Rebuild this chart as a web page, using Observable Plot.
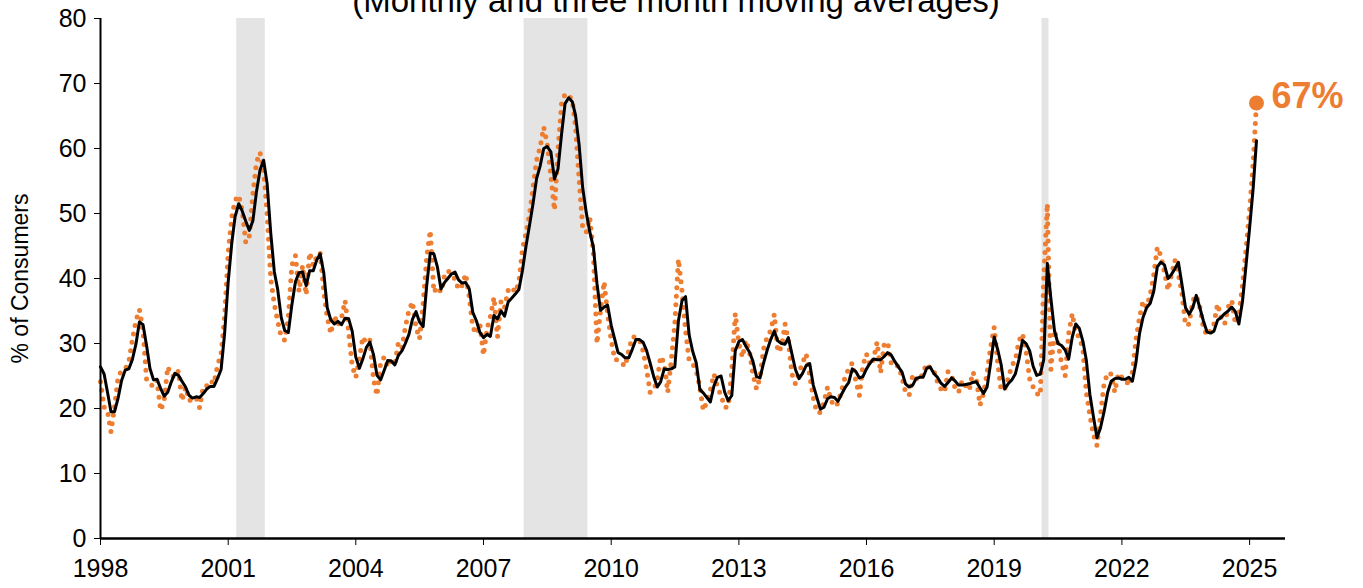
<!DOCTYPE html>
<html>
<head>
<meta charset="utf-8">
<script src="https://cdn.jsdelivr.net/npm/d3@7"></script>
<script src="https://cdn.jsdelivr.net/npm/@observablehq/plot@0.6"></script>
<style>
  html, body { margin: 0; padding: 0; background: #fff; }
  #wrap { position: relative; width: 1363px; height: 588px; overflow: hidden; font-family: "Liberation Sans", Arial, sans-serif; }
  #title { position: absolute; left: 0; top: 0; }
</style>
</head>
<body>
<div id="wrap">
  <div id="chart"></div>
  <svg id="title" width="1363" height="30"><text x="676" y="12" text-anchor="middle" font-size="33" fill="#000" font-family="Liberation Sans, Arial, sans-serif">(Monthly and three month moving averages)</text></svg>
</div>
<script>
// ---- data (first value = Jan 1998, one value per month) ----
const startYear = 1998;
const monthlyShare = [
  24.1, 20.2, 19.7, 16.4, 20.2, 24.8, 25.8, 26.1, 27.1, 30.5, 33.5, 35.2,
  32.0, 24.3, 23.8, 23.4, 24.3, 19.7, 21.2, 26.4, 25.1, 24.8, 25.8, 21.2,
  23.3, 21.2, 21.5, 21.7, 20.1, 23.4, 23.5, 24.3, 23.8, 26.6, 28.4, 34.1,
  44.0, 49.5, 52.0, 52.8, 50.5, 45.5, 46.5, 53.0, 57.9, 59.4, 56.6, 49.9,
  40.0, 36.0, 33.5, 31.0, 30.5, 34.0, 42.0, 43.5, 38.0, 42.0, 37.5, 44.0,
  42.0, 43.5, 44.0, 38.0, 34.0, 31.5, 34.3, 32.8, 34.0, 36.6, 31.7, 26.6,
  24.8, 27.6, 31.0, 30.0, 30.5, 24.5, 22.0, 27.1, 27.9, 26.4, 27.4, 26.9,
  30.2, 29.4, 32.5, 35.1, 36.4, 32.5, 30.7, 36.1, 43.3, 47.4, 37.9, 38.7,
  37.9, 40.5, 41.2, 40.7, 39.9, 38.3, 38.9, 40.7, 37.1, 32.5, 31.5, 33.0,
  28.2, 32.3, 34.1, 37.1, 31.0, 36.6, 35.6, 38.2, 38.7, 37.9, 39.4, 44.5,
  47.0, 50.0, 54.0, 58.2, 60.2, 63.3, 60.7, 55.8, 50.5, 59.7, 66.9, 68.4,
  68.2, 67.4, 63.3, 55.1, 47.9, 47.1, 49.4, 44.0, 30.0, 35.0, 39.5, 34.6,
  30.5, 27.5, 27.5, 27.0, 26.5, 29.0, 31.0, 31.0, 30.6, 28.9, 26.0, 22.5,
  22.8, 24.5, 28.0, 27.0, 22.5, 27.5, 33.0, 43.0, 38.0, 32.0, 27.4, 26.9,
  25.8, 23.3, 19.7, 21.0, 22.8, 25.3, 23.3, 22.0, 20.2, 20.2, 25.8, 34.6,
  29.9, 27.9, 30.5, 28.9, 25.3, 23.0, 24.8, 29.2, 31.0, 32.0, 34.5, 28.7,
  29.4, 33.0, 30.5, 25.3, 23.8, 25.5, 27.0, 28.4, 25.0, 21.7, 19.4, 19.4,
  21.0, 23.3, 21.3, 20.3, 20.8, 22.8, 24.8, 26.1, 27.0, 24.3, 22.0, 26.6,
  28.4, 26.6, 27.6, 30.2, 25.5, 29.9, 30.2, 26.9, 26.4, 26.6, 24.8, 22.5,
  22.0, 25.2, 24.6, 24.3, 25.6, 26.9, 26.1, 25.8, 24.1, 23.0, 22.5, 25.7,
  25.1, 23.0, 22.5, 24.3, 23.5, 22.8, 25.6, 24.6, 20.5, 22.3, 25.5, 29.4,
  32.5, 26.9, 22.8, 23.0, 24.6, 26.6, 27.4, 30.4, 31.5, 28.9, 24.6, 23.3,
  22.3, 22.0, 40.0, 51.5, 26.0, 32.0, 30.0, 27.0, 25.0, 31.5, 34.6, 31.5,
  31.0, 29.0, 22.5, 19.0, 16.0, 14.3, 19.0, 23.8, 25.5, 25.3, 22.5, 25.4,
  24.8, 24.5, 23.5, 25.6, 30.5, 34.0, 36.5, 35.6, 37.5, 40.5, 44.8, 43.5,
  41.0, 38.2, 40.5, 42.8, 40.7, 37.6, 32.8, 33.0, 36.6, 37.4, 35.6, 32.5,
  31.2, 32.0, 33.0, 36.1, 34.0, 33.0, 35.6, 36.6, 33.0, 34.5, 39.0, 44.5,
  50.5, 58.0, 67.0
];
const movingAverage3 = [
  26.4, 25.3, 22.6, 19.5, 19.5, 21.6, 24.3, 25.9, 26.1, 27.5, 29.9, 33.3,
  32.9, 29.6, 26.2, 24.4, 24.5, 23.1, 21.9, 22.5, 24.1, 25.4, 25.1, 24.2,
  23.3, 22.0, 21.6, 21.8, 21.7, 22.3, 23.0, 23.4, 23.4, 24.6, 26.0, 31.5,
  39.5, 45.5, 49.5, 51.5, 50.4, 48.8, 47.4, 48.9, 53.4, 56.7, 58.2, 54.6,
  47.0, 41.0, 38.4, 34.0, 32.0, 31.7, 35.9, 39.5, 40.9, 41.0, 38.9, 41.2,
  41.2, 42.9, 43.8, 40.9, 35.5, 33.6, 33.0, 33.4, 32.9, 33.9, 33.8, 31.9,
  27.9, 26.2, 27.6, 29.4, 30.2, 28.3, 25.1, 24.4, 25.9, 27.4, 27.3, 26.7,
  28.2, 28.9, 30.0, 31.4, 33.7, 34.9, 33.3, 32.6, 39.0, 43.9, 43.8, 41.8,
  38.4, 39.4, 40.0, 40.7, 41.0, 39.8, 39.3, 39.4, 38.4, 34.8, 33.5, 31.7,
  30.9, 31.4, 31.1, 34.3, 33.8, 35.0, 34.2, 36.4, 37.0, 37.6, 38.3, 41.2,
  45.0, 48.3, 51.5, 55.4, 57.3, 60.0, 60.3, 59.5, 55.3, 56.8, 62.2, 66.9,
  67.8, 67.2, 65.1, 60.5, 54.0, 50.1, 47.2, 44.8, 39.2, 35.1, 35.6, 35.9,
  32.8, 30.6, 28.6, 28.3, 27.8, 27.8, 29.1, 30.6, 30.6, 30.2, 28.9, 27.0,
  24.9, 23.3, 24.1, 26.1, 26.0, 26.1, 26.4, 33.5, 36.6, 37.2, 31.3, 28.8,
  27.0, 22.9, 22.4, 21.7, 21.0, 23.5, 24.8, 25.0, 22.5, 21.2, 22.0, 28.9,
  30.3, 30.6, 29.6, 28.7, 27.3, 24.9, 24.7, 27.0, 29.0, 30.6, 31.9, 30.4,
  30.0, 29.9, 30.9, 28.4, 26.0, 24.6, 25.4, 26.6, 26.9, 23.6, 21.7, 19.9,
  20.2, 21.5, 21.8, 21.7, 21.1, 22.2, 23.2, 24.0, 26.1, 25.7, 24.7, 24.9,
  26.1, 27.0, 27.6, 27.5, 27.5, 28.0, 28.6, 28.2, 27.2, 26.4, 25.6, 23.8,
  23.3, 23.6, 24.6, 24.8, 24.8, 26.2, 26.4, 25.4, 24.8, 23.9, 23.4, 24.0,
  24.7, 24.2, 23.6, 23.6, 23.7, 23.8, 24.0, 24.1, 23.2, 22.3, 23.3, 26.9,
  31.0, 29.0, 26.8, 23.0, 23.8, 24.4, 25.3, 27.5, 30.5, 30.0, 28.9, 26.5,
  25.1, 25.3, 27.5, 42.3, 37.0, 32.0, 30.0, 29.7, 29.0, 27.6, 31.0, 33.0,
  32.3, 30.3, 27.5, 22.2, 18.8, 15.5, 17.0, 19.5, 22.5, 24.2, 24.6, 24.7,
  24.5, 24.5, 24.8, 24.2, 27.0, 31.5, 34.0, 35.5, 36.2, 38.0, 41.8, 42.5,
  42.1, 40.0, 40.6, 41.5, 42.5, 39.0, 35.5, 34.5, 35.5, 37.4, 35.5, 33.5,
  31.8, 31.6, 31.9, 33.6, 34.0, 34.6, 35.0, 35.6, 34.9, 33.0, 36.5, 42.0,
  47.8, 54.0, 61.2
];
const recessionStarts = ["2001-03-15", "2007-12-15", "2020-02-15"];
const recessionEnds   = ["2001-11-15", "2009-06-15", "2020-04-15"];
const yTickValues = [0, 10, 20, 30, 40, 50, 60, 70, 80];
const xTickYears = [1998, 2001, 2004, 2007, 2010, 2013, 2016, 2019, 2022, 2025];
const yAxisTitle = "% of Consumers";
const lastLabel = "67%";

// ---- build tables ----
const monthDate = i => new Date(Date.UTC(startYear, i, 1));
const monthlyRows = monthlyShare.map((v, i) => ({date: monthDate(i), value: v}));
const maRows = movingAverage3.map((v, i) => ({date: monthDate(i), value: v}));
const recessions = recessionStarts.map((s, i) => ({start: new Date(s + "T00:00:00Z"), end: new Date(recessionEnds[i] + "T00:00:00Z")}));
const lastPoint = monthlyRows[monthlyRows.length - 1];
const xStart = new Date(Date.UTC(1998, 0, 1));
const xEnd = new Date(Date.UTC(2025, 10, 5));
const FONT = "Liberation Sans, Arial, sans-serif";
const ORANGE = "#ED7D31";

const chart = Plot.plot({
  width: 1363,
  height: 588,
  marginLeft: 100,
  marginRight: 78,
  marginTop: 18,
  marginBottom: 50,
  style: {fontFamily: FONT, fontSize: "25px", color: "#000", background: "#fff", overflow: "visible"},
  x: {type: "utc", domain: [xStart, xEnd]},
  y: {domain: [0, 80]},
  marks: [
    Plot.rect(recessions, {x1: "start", x2: "end", y1: 0, y2: 80, fill: "#e4e4e4"}),
    Plot.line(monthlyRows, {x: "date", y: "value", stroke: ORANGE, strokeWidth: 5, strokeDasharray: "0 8.6", strokeLinecap: "round", strokeLinejoin: "round"}),
    Plot.line(maRows, {x: "date", y: "value", stroke: "#000", strokeWidth: 3, strokeLinejoin: "round"}),
    Plot.dot([lastPoint], {x: "date", y: "value", r: 7.5, fill: ORANGE, stroke: "none"}),
    Plot.text([lastPoint], {x: "date", y: "value", text: () => lastLabel, dx: 15, dy: -7, textAnchor: "start", lineAnchor: "middle", fill: ORANGE, fontWeight: "bold", fontSize: 36}),
    Plot.ruleY([0], {stroke: "#000", strokeWidth: 2.5}),
    Plot.ruleX([xStart], {y1: 0, y2: 80, stroke: "#000", strokeWidth: 2}),
    Plot.axisY({ticks: yTickValues, tickSize: 6, tickPadding: 8, label: null, fontSize: 25, tickFormat: d => String(d)}),
    Plot.axisX({ticks: xTickYears.map(y => new Date(Date.UTC(y, 0, 1))), tickFormat: d => String(d.getUTCFullYear()), tickSize: 7, tickPadding: 14, label: null, fontSize: 25}),
    Plot.text([yAxisTitle], {frameAnchor: "left", dx: -80, rotate: -90, fontSize: 23, fill: "#000", textAnchor: "middle", lineAnchor: "middle"})
  ]
});
document.getElementById("chart").appendChild(chart);
</script>
</body>
</html>
